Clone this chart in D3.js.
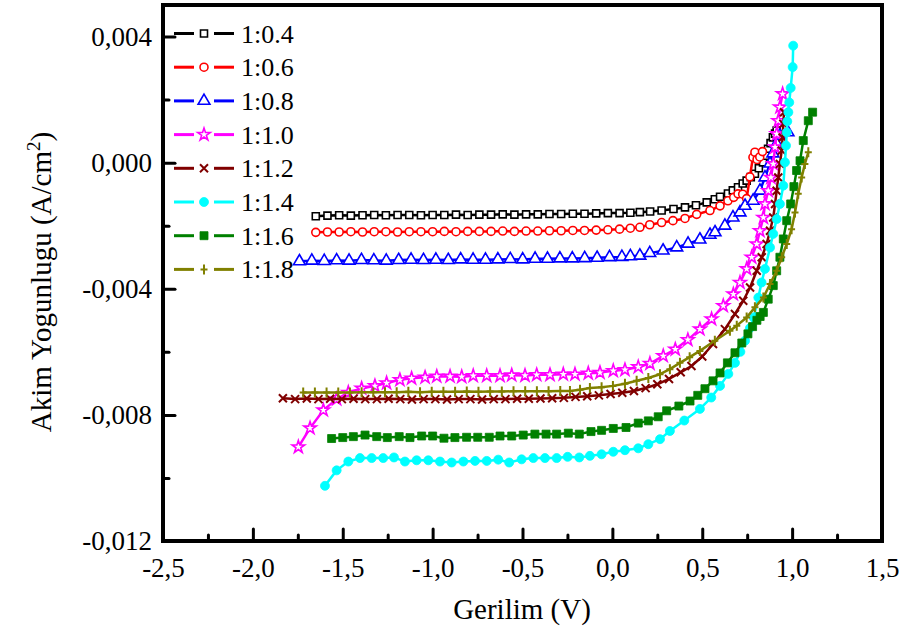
<!DOCTYPE html>
<html>
<head>
<meta charset="utf-8">
<script src="https://cdn.jsdelivr.net/npm/d3@7"></script>
<style>
  body { margin: 0; background: #fff; }
  svg { display: block; font-family: "Liberation Serif", "Times New Roman", serif; }
</style>
</head>
<body>
<svg id="chart" width="905" height="637"></svg>
<script>
// Series names (molar ratio) with their colours and marker shapes
const seriesNames = ["1:0.4", "1:0.6", "1:0.8", "1:1.0", "1:1.2", "1:1.4", "1:1.6", "1:1.8"];
const seriesColors = ["#000000", "#ff0000", "#0000ff", "#ff00ff", "#800000", "#00ffff", "#008000", "#808000"];
const seriesMarkers = ["square", "circle", "triangle", "star", "times", "dot", "block", "plus"];

// Axis ticks
const xMajorTicks = [-2.5, -2.0, -1.5, -1.0, -0.5, 0.0, 0.5, 1.0, 1.5];
const xMinorTicks = [-2.25, -1.75, -1.25, -0.75, -0.25, 0.25, 0.75, 1.25];
const yMajorTicks = [-0.012, -0.008, -0.004, 0.000, 0.004];
const yMinorTicks = [-0.010, -0.006, -0.002, 0.002];

// Measured J-V curves: [voltage (V), current density (mA/cm^2)]
const s04 = [[-1.65,-1.70],[-1.585,-1.68],[-1.52,-1.67],[-1.455,-1.68],[-1.39,-1.67],[-1.325,-1.66],[-1.26,-1.67],[-1.195,-1.66],[-1.13,-1.66],[-1.065,-1.67],[-1.00,-1.66],[-0.935,-1.66],[-0.87,-1.65],[-0.805,-1.66],[-0.74,-1.65],[-0.675,-1.65],[-0.61,-1.64],[-0.545,-1.65],[-0.48,-1.64],[-0.415,-1.64],[-0.35,-1.63],[-0.285,-1.63],[-0.22,-1.62],[-0.155,-1.62],[-0.09,-1.61],[-0.025,-1.60],[0.04,-1.60],[0.10,-1.59],[0.153,-1.57],[0.21,-1.55],[0.274,-1.52],[0.34,-1.47],[0.404,-1.42],[0.465,-1.35],[0.525,-1.26],[0.57,-1.16],[0.599,-1.08],[0.643,-0.98],[0.67,-0.88],[0.699,-0.78],[0.725,-0.66],[0.747,-0.57],[0.77,-0.46],[0.793,-0.35],[0.815,-0.18],[0.838,0.01],[0.852,0.22],[0.866,0.44],[0.88,0.62],[0.893,0.80],[0.905,0.92],[0.914,1.02]];
const s06 = [[-1.65,-2.21],[-1.585,-2.20],[-1.52,-2.20],[-1.455,-2.19],[-1.39,-2.20],[-1.325,-2.19],[-1.26,-2.19],[-1.195,-2.20],[-1.13,-2.19],[-1.065,-2.19],[-1.00,-2.19],[-0.935,-2.18],[-0.87,-2.19],[-0.805,-2.18],[-0.74,-2.18],[-0.675,-2.18],[-0.61,-2.17],[-0.545,-2.18],[-0.48,-2.17],[-0.415,-2.17],[-0.35,-2.16],[-0.285,-2.16],[-0.22,-2.15],[-0.155,-2.15],[-0.09,-2.14],[-0.025,-2.13],[0.04,-2.11],[0.10,-2.08],[0.153,-2.05],[0.208,-1.97],[0.274,-1.90],[0.337,-1.84],[0.404,-1.77],[0.469,-1.64],[0.543,-1.52],[0.599,-1.37],[0.643,-1.21],[0.675,-1.10],[0.699,-0.99],[0.725,-1.00],[0.747,-1.14],[0.765,-0.45],[0.782,0.17],[0.793,0.33],[0.805,0.10],[0.82,0.18],[0.835,0.35]];
const s08 = [[-1.741,-3.13],[-1.672,-3.11],[-1.603,-3.12],[-1.534,-3.10],[-1.465,-3.11],[-1.396,-3.09],[-1.327,-3.10],[-1.258,-3.11],[-1.189,-3.09],[-1.12,-3.08],[-1.051,-3.09],[-0.982,-3.08],[-0.913,-3.09],[-0.844,-3.07],[-0.775,-3.08],[-0.706,-3.08],[-0.637,-3.07],[-0.568,-3.06],[-0.499,-3.07],[-0.43,-3.05],[-0.361,-3.05],[-0.292,-3.04],[-0.223,-3.04],[-0.154,-3.03],[-0.085,-3.02],[-0.016,-3.00],[0.053,-2.99],[0.10,-2.97],[0.153,-2.95],[0.208,-2.87],[0.282,-2.79],[0.358,-2.69],[0.421,-2.57],[0.487,-2.44],[0.543,-2.29],[0.571,-2.21],[0.626,-2.00],[0.671,-1.74],[0.710,-1.58],[0.738,-1.37],[0.783,-1.21],[0.821,-0.89],[0.849,-0.47],[0.877,-0.03],[0.893,0.29],[0.914,0.60],[0.932,0.86],[0.977,0.96]];
const s10 = [[-1.747,-9.02],[-1.682,-8.42],[-1.608,-7.85],[-1.534,-7.50],[-1.469,-7.29],[-1.395,-7.16],[-1.321,-7.08],[-1.256,-6.99],[-1.182,-6.89],[-1.117,-6.84],[-1.042,-6.81],[-0.977,-6.78],[-0.903,-6.78],[-0.838,-6.79],[-0.774,-6.76],[-0.699,-6.76],[-0.625,-6.76],[-0.56,-6.74],[-0.486,-6.75],[-0.421,-6.73],[-0.347,-6.73],[-0.273,-6.71],[-0.208,-6.71],[-0.134,-6.68],[-0.069,-6.66],[0.005,-6.60],[0.070,-6.57],[0.144,-6.48],[0.209,-6.37],[0.283,-6.13],[0.35,-5.92],[0.42,-5.62],[0.487,-5.28],[0.552,-4.96],[0.617,-4.54],[0.673,-4.17],[0.710,-3.80],[0.747,-3.37],[0.775,-3.00],[0.803,-2.58],[0.821,-2.16],[0.840,-1.74],[0.849,-1.31],[0.867,-0.89],[0.882,-0.47],[0.895,-0.04],[0.905,0.49],[0.914,0.91],[0.923,1.33],[0.932,1.76],[0.947,2.18]];
const s12 = [[-1.833,-7.47],[-1.765,-7.50],[-1.70,-7.48],[-1.635,-7.50],[-1.57,-7.49],[-1.505,-7.50],[-1.44,-7.49],[-1.375,-7.50],[-1.31,-7.50],[-1.245,-7.49],[-1.18,-7.50],[-1.115,-7.51],[-1.05,-7.50],[-0.985,-7.50],[-0.92,-7.51],[-0.855,-7.50],[-0.79,-7.50],[-0.725,-7.51],[-0.66,-7.50],[-0.595,-7.50],[-0.53,-7.49],[-0.465,-7.49],[-0.40,-7.48],[-0.335,-7.47],[-0.27,-7.46],[-0.205,-7.43],[-0.14,-7.41],[-0.075,-7.38],[-0.01,-7.34],[0.055,-7.30],[0.12,-7.24],[0.185,-7.15],[0.25,-7.03],[0.315,-6.86],[0.38,-6.65],[0.44,-6.45],[0.50,-6.15],[0.56,-5.75],[0.626,-5.28],[0.682,-4.80],[0.728,-4.38],[0.766,-3.96],[0.803,-3.43],[0.831,-3.00],[0.858,-2.58],[0.877,-2.16],[0.895,-1.74],[0.905,-1.31],[0.914,-0.89],[0.923,-0.47],[0.932,-0.04],[0.942,0.38],[0.947,0.80],[0.951,1.23],[0.955,1.60]];
const s14 = [[-1.599,-10.25],[-1.534,-9.76],[-1.469,-9.48],[-1.404,-9.37],[-1.339,-9.37],[-1.275,-9.37],[-1.215,-9.35],[-1.154,-9.48],[-1.089,-9.44],[-1.024,-9.44],[-0.959,-9.48],[-0.894,-9.51],[-0.829,-9.48],[-0.764,-9.46],[-0.699,-9.46],[-0.635,-9.42],[-0.574,-9.51],[-0.505,-9.41],[-0.44,-9.37],[-0.375,-9.37],[-0.31,-9.37],[-0.249,-9.33],[-0.184,-9.35],[-0.125,-9.30],[-0.06,-9.25],[0.005,-9.17],[0.070,-9.12],[0.144,-9.06],[0.200,-8.93],[0.265,-8.77],[0.320,-8.51],[0.40,-8.18],[0.487,-7.81],[0.55,-7.45],[0.599,-7.08],[0.645,-6.70],[0.682,-6.35],[0.712,-6.00],[0.738,-5.65],[0.765,-5.25],[0.786,-4.91],[0.812,-4.28],[0.83,-3.80],[0.849,-3.37],[0.877,-2.69],[0.895,-2.26],[0.914,-1.79],[0.932,-1.31],[0.951,-0.73],[0.960,0.01],[0.966,0.54],[0.970,0.96],[0.973,1.31],[0.979,1.60],[0.984,1.91],[0.992,2.37],[1.003,3.03],[1.006,3.71]];
const s16 = [[-1.562,-8.75],[-1.500,-8.72],[-1.441,-8.69],[-1.376,-8.64],[-1.311,-8.69],[-1.252,-8.72],[-1.186,-8.69],[-1.126,-8.72],[-1.061,-8.67],[-1.000,-8.67],[-0.937,-8.74],[-0.876,-8.72],[-0.811,-8.71],[-0.749,-8.71],[-0.685,-8.71],[-0.625,-8.67],[-0.560,-8.67],[-0.496,-8.64],[-0.431,-8.61],[-0.369,-8.61],[-0.310,-8.61],[-0.245,-8.58],[-0.184,-8.61],[-0.119,-8.53],[-0.060,-8.49],[0.005,-8.43],[0.076,-8.40],[0.144,-8.26],[0.200,-8.19],[0.255,-8.06],[0.302,-7.87],[0.37,-7.72],[0.432,-7.56],[0.475,-7.38],[0.515,-7.17],[0.56,-6.92],[0.599,-6.67],[0.64,-6.35],[0.682,-6.03],[0.72,-5.72],[0.754,-5.43],[0.78,-5.20],[0.804,-5.00],[0.822,-4.88],[0.840,-4.75],[0.867,-4.33],[0.895,-3.90],[0.914,-3.43],[0.932,-3.00],[0.951,-2.42],[0.970,-1.84],[0.992,-1.31],[1.010,-0.76],[1.025,-0.25],[1.044,0.06],[1.062,0.70],[1.090,1.33],[1.114,1.60]];
const s18 = [[-1.72,-7.29],[-1.655,-7.29],[-1.59,-7.29],[-1.525,-7.29],[-1.46,-7.29],[-1.395,-7.28],[-1.33,-7.28],[-1.265,-7.28],[-1.20,-7.28],[-1.135,-7.27],[-1.07,-7.28],[-1.005,-7.27],[-0.94,-7.27],[-0.875,-7.27],[-0.81,-7.26],[-0.745,-7.27],[-0.68,-7.26],[-0.615,-7.26],[-0.55,-7.25],[-0.485,-7.25],[-0.42,-7.25],[-0.355,-7.25],[-0.29,-7.24],[-0.236,-7.24],[-0.18,-7.20],[-0.125,-7.15],[-0.06,-7.12],[0.003,-7.08],[0.07,-7.01],[0.135,-6.92],[0.20,-6.83],[0.265,-6.71],[0.32,-6.55],[0.376,-6.35],[0.43,-6.17],[0.487,-5.97],[0.57,-5.65],[0.654,-5.33],[0.692,-5.17],[0.747,-4.91],[0.793,-4.59],[0.840,-4.28],[0.877,-3.85],[0.914,-3.43],[0.942,-3.00],[0.970,-2.58],[0.997,-2.11],[1.016,-1.58],[1.034,-0.99],[1.053,-0.47],[1.071,-0.04],[1.090,0.33]];
const seriesData = [s04, s06, s08, s10, s12, s14, s16, s18];

const svg = d3.select("#chart");
const frame = { left: 163, right: 882, top: 5, bottom: 541 };

const x = d3.scaleLinear().domain([-2.5, 1.5]).range([frame.left, frame.right]);
const y = d3.scaleLinear().domain([-0.012, 0.005]).range([frame.bottom, frame.top]);

// Decimal comma with an ASCII hyphen for negatives
const locale = d3.formatLocale({ decimal: ",", thousands: ".", grouping: [3], currency: ["", ""], minus: "-" });

// Marker outlines centred on the origin
function markerPath(type, s) {
  const h = s / 2;
  switch (type) {
    case "square":   return d3.symbol(d3.symbolSquare, s * s)();
    case "circle":   return d3.symbol(d3.symbolCircle, Math.PI * h * h)();
    case "triangle": return d3.symbol(d3.symbolTriangle, s * s * 0.95)();
    case "star":     return d3.symbol(d3.symbolStar, s * s * 0.6)();
    case "times":    return `M${-h},${-h}L${h},${h}M${-h},${h}L${h},${-h}`;
    case "dot":      return d3.symbol(d3.symbolCircle, Math.PI * h * h)();
    case "block":    return d3.symbol(d3.symbolSquare, s * s)();
    case "plus":     return `M0,${-h}L0,${h}M${-h * 0.7},0L${h * 0.7},0`;
  }
}
const markerSize = { square: 7, circle: 8, triangle: 8, star: 9, times: 8, dot: 9, block: 8, plus: 10 };

function styleMarker(sel, type, color) {
  const filled = type === "dot" || type === "block";
  const stroked = type === "times" || type === "plus";
  sel.attr("fill", filled ? color : (stroked ? "none" : "#fff"))
     .attr("stroke", color)
     .attr("stroke-width", filled ? 0.8 : (stroked ? 2 : 1.6));
}

// Axes (ticks point inward)
function styleAxis(g, fontSize) {
  g.attr("font-family", null);
  g.select(".domain").remove();
  g.selectAll(".tick line").attr("stroke", "#000").attr("stroke-width", 3).attr("stroke-linecap", "round");
  g.selectAll(".tick text").attr("font-size", fontSize).attr("fill", "#000");
}

svg.append("g").attr("transform", `translate(0,${frame.bottom})`)
  .call(d3.axisBottom(x).tickValues(xMajorTicks).tickSizeInner(-12).tickSizeOuter(0).tickPadding(17)
        .tickFormat(locale.format(".1f")))
  .call(g => styleAxis(g, 27));
svg.append("g").attr("transform", `translate(0,${frame.bottom})`)
  .call(d3.axisBottom(x).tickValues(xMinorTicks).tickSizeInner(-6).tickSizeOuter(0).tickFormat(""))
  .call(g => styleAxis(g, 27));
svg.append("g").attr("transform", `translate(${frame.left},0)`)
  .call(d3.axisLeft(y).tickValues(yMajorTicks).tickSizeInner(-12).tickSizeOuter(0).tickPadding(11)
        .tickFormat(locale.format(".3f")))
  .call(g => styleAxis(g, 27));
svg.append("g").attr("transform", `translate(${frame.left},0)`)
  .call(d3.axisLeft(y).tickValues(yMinorTicks).tickSizeInner(-6).tickSizeOuter(0).tickFormat(""))
  .call(g => styleAxis(g, 27));

// Plot frame
svg.append("rect")
  .attr("x", frame.left).attr("y", frame.top)
  .attr("width", frame.right - frame.left).attr("height", frame.bottom - frame.top)
  .attr("fill", "none").attr("stroke", "#000").attr("stroke-width", 4);

// Curves
const line = d3.line().x(d => x(d[0])).y(d => y(d[1] / 1000));
seriesData.forEach((data, i) => {
  const g = svg.append("g").attr("class", "series");
  g.append("path").datum(data)
    .attr("d", line)
    .attr("fill", "none").attr("stroke", seriesColors[i])
    .attr("stroke-width", 2.5).attr("stroke-linejoin", "round");
  const type = seriesMarkers[i];
  g.selectAll("path.marker").data(data).join("path")
    .attr("class", "marker")
    .attr("transform", d => `translate(${x(d[0])},${y(d[1] / 1000)})`)
    .attr("d", markerPath(type, markerSize[type]))
    .call(styleMarker, type, seriesColors[i]);
});

// Legend
const legend = svg.append("g").attr("class", "legend");
seriesNames.forEach((name, i) => {
  const cy = 33.5 + i * 33.7;
  const item = legend.append("g").attr("transform", `translate(0,${cy})`);
  item.append("line").attr("x1", 174).attr("x2", 194).attr("y1", 0).attr("y2", 0)
    .attr("stroke", seriesColors[i]).attr("stroke-width", 3);
  item.append("line").attr("x1", 214).attr("x2", 234).attr("y1", 0).attr("y2", 0)
    .attr("stroke", seriesColors[i]).attr("stroke-width", 3);
  const type = seriesMarkers[i];
  item.append("path").attr("transform", "translate(204,0)")
    .attr("d", markerPath(type, markerSize[type]))
    .call(styleMarker, type, seriesColors[i]);
  item.append("text").attr("x", 241).attr("y", 9).attr("font-size", 26).attr("fill", "#000").text(name);
});

// Axis titles
svg.append("text").attr("x", 522).attr("y", 619).attr("text-anchor", "middle")
  .attr("font-size", 29).attr("fill", "#000").text("Gerilim (V)");
const yTitle = svg.append("text").attr("text-anchor", "middle").attr("font-size", 29).attr("fill", "#000")
  .attr("transform", "translate(51,282) rotate(-90)");
yTitle.append("tspan").text("Akim Yogunlugu (A/cm");
yTitle.append("tspan").attr("dy", -11).attr("font-size", 19).text("2");
yTitle.append("tspan").attr("dy", 11).text(")");
</script>
</body>
</html>
